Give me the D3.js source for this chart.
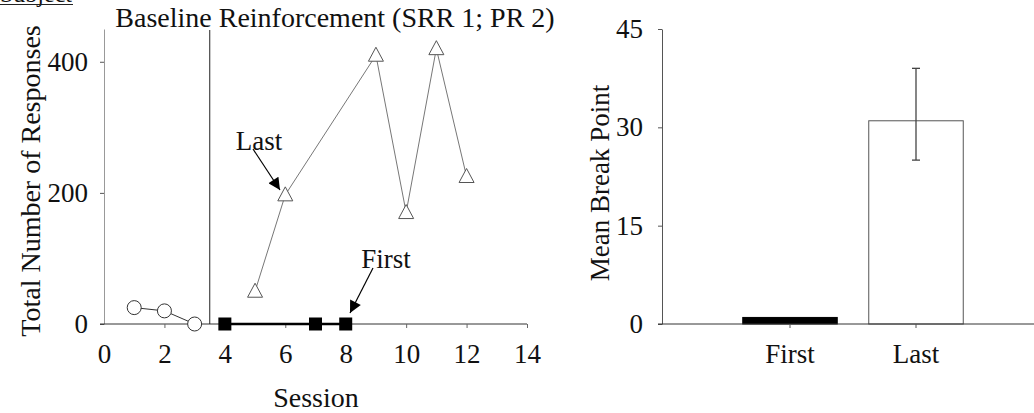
<!DOCTYPE html>
<html><head><meta charset="utf-8">
<script src="https://cdn.jsdelivr.net/npm/d3@7"></script>
<style>
html,body{margin:0;padding:0;background:#fff;}
svg text{font-family:"Liberation Serif","Times New Roman",serif;fill:#111;}
</style></head>
<body><svg id="c" width="1034" height="413"></svg>
<script>
// ---- data ----
const baselineSessions = [1, 2, 3];
const baselineValues = [25, 20, 0];
const firstSessions = [4, 7, 8];
const firstValues = [0, 0, 0];
const lastSessions = [5, 6, 9, 10, 11, 12];
const lastValues = [50, 197, 410, 170, 420, 225];
const leftYTicks = [0, 200, 400];
const leftXTicks = [0, 2, 4, 6, 8, 10, 12, 14];
const phaseChange = 3.5;
const barCategories = ["First", "Last"];
const barMeans = [1, 31];
const barErrLow = [null, 25];
const barErrHigh = [null, 39];
const rightYTicks = [0, 15, 30, 45];

const FS = "27px";
const svg = d3.select("#c");

// ---- left chart ----
const x = d3.scaleLinear().domain([0, 14]).range([104, 527]);
const y = d3.scaleLinear().domain([0, 450]).range([324, 29]);

const yAx = svg.append("g").attr("transform", "translate(104,0)")
  .call(d3.axisLeft(y).tickValues(leftYTicks).tickSize(4).tickSizeOuter(0).tickPadding(12));
yAx.select(".domain").attr("stroke", "#999");
yAx.selectAll(".tick line").attr("stroke", "#555");
yAx.selectAll("text").style("font-size", FS);

const xAx = svg.append("g").attr("transform", "translate(0,324)")
  .call(d3.axisBottom(x).tickValues(leftXTicks).tickSize(4).tickSizeOuter(0).tickPadding(16));
xAx.select(".domain").attr("stroke", "#333").attr("d", `M${x(0)-4},0H${x(14)}`);
xAx.selectAll(".tick line").attr("stroke", "#666");
xAx.selectAll(".tick").filter(d => d === 0).select("line").remove();
xAx.selectAll("text").style("font-size", FS);

// phase line
svg.append("line").attr("x1", x(phaseChange)).attr("x2", x(phaseChange))
  .attr("y1", 30).attr("y2", y(0)).attr("stroke", "#222").attr("stroke-width", 1);

const line = d3.line().x(d => x(d[0])).y(d => y(d[1]));
const base = baselineSessions.map((s, i) => [s, baselineValues[i]]);
const first = firstSessions.map((s, i) => [s, firstValues[i]]);
const last = lastSessions.map((s, i) => [s, lastValues[i]]);

svg.append("path").attr("d", line(base)).attr("fill", "none").attr("stroke", "#333").attr("stroke-width", 1);
svg.append("path").attr("d", line(first)).attr("fill", "none").attr("stroke", "#000").attr("stroke-width", 2.5);
svg.append("path").attr("d", line(last)).attr("fill", "none").attr("stroke", "#777").attr("stroke-width", 1);

svg.selectAll(".circ").data(base).enter().append("circle")
  .attr("cx", d => x(d[0])).attr("cy", d => y(d[1])).attr("r", 7)
  .attr("fill", "#fff").attr("stroke", "#333").attr("stroke-width", 1);

svg.selectAll(".sq").data(first).enter().append("rect")
  .attr("x", d => x(d[0]) - 6.5).attr("y", d => y(d[1]) - 6.5)
  .attr("width", 13).attr("height", 13).attr("fill", "#000");

svg.selectAll(".tri").data(last).enter().append("path")
  .attr("transform", d => `translate(${x(d[0])},${y(d[1])})`)
  .attr("d", "M0,-8L7.5,6L-7.5,6Z")
  .attr("fill", "#fff").attr("stroke", "#555").attr("stroke-width", 1);

// arrows
const defs = svg.append("defs");
defs.append("marker").attr("id", "ah").attr("viewBox", "0 0 10 10")
  .attr("refX", 10).attr("refY", 5).attr("markerWidth", 14).attr("markerHeight", 12)
  .attr("markerUnits", "userSpaceOnUse").attr("orient", "auto")
  .append("path").attr("d", "M0,0L10,5L0,10Z").attr("fill", "#000");

svg.append("line").attr("x1", 253).attr("y1", 149).attr("x2", 280).attr("y2", 190)
  .attr("stroke", "#000").attr("stroke-width", 1.2).attr("marker-end", "url(#ah)");
svg.append("line").attr("x1", 373).attr("y1", 268).attr("x2", 350).attr("y2", 313)
  .attr("stroke", "#000").attr("stroke-width", 1.2).attr("marker-end", "url(#ah)");

svg.append("text").attr("x", 259).attr("y", 150).attr("text-anchor", "middle")
  .style("font-size", FS).text("Last");
svg.append("text").attr("x", 386).attr("y", 268).attr("text-anchor", "middle")
  .style("font-size", FS).text("First");

// titles & labels
svg.append("text").attr("x", 335).attr("y", 27).attr("text-anchor", "middle")
  .style("font-size", "28px").text("Baseline Reinforcement (SRR 1; PR 2)");
svg.append("text").attr("transform", "translate(40,181) rotate(-90)").attr("text-anchor", "middle")
  .style("font-size", "28px").text("Total Number of Responses");
svg.append("text").attr("x", 316).attr("y", 407).attr("text-anchor", "middle")
  .style("font-size", "28px").text("Session");

// cut-off top label (as in the reference)
svg.append("text").attr("x", 0).attr("y", 2).style("font-size", "24px").text("Subject");
svg.append("line").attr("x1", 0).attr("x2", 73).attr("y1", 4.5).attr("y2", 4.5)
  .attr("stroke", "#222").attr("stroke-width", 1);

// ---- right chart ----
const yb = d3.scaleLinear().domain([0, 45]).range([324, 29]);
const xb = d3.scaleBand().domain(barCategories).range([727, 979])
  .paddingInner(0.25).paddingOuter(0.125);

const ybAx = svg.append("g").attr("transform", "translate(662,0)")
  .call(d3.axisLeft(yb).tickValues(rightYTicks).tickSize(4).tickSizeOuter(0).tickPadding(15));
ybAx.select(".domain").attr("stroke", "#555");
ybAx.selectAll(".tick line").attr("stroke", "#555");
ybAx.selectAll("text").style("font-size", FS);

svg.selectAll(".bar").data(barCategories).enter().append("rect")
  .attr("x", d => xb(d)).attr("width", xb.bandwidth())
  .attr("y", (d, i) => yb(barMeans[i])).attr("height", (d, i) => yb(0) - yb(barMeans[i]))
  .attr("fill", (d, i) => i === 0 ? "#000" : "#fff")
  .attr("stroke", (d, i) => i === 0 ? "#000" : "#555").attr("stroke-width", 1);

const xbAx = svg.append("g").attr("transform", "translate(0,324)")
  .call(d3.axisBottom(xb).tickSize(4).tickSizeOuter(0).tickPadding(16));
xbAx.select(".domain").attr("stroke", "#333").attr("d", "M658,0H1034");
xbAx.selectAll(".tick line").attr("stroke", "#555");
xbAx.selectAll("text").style("font-size", FS);

// error bars
barCategories.forEach((c, i) => {
  if (barErrLow[i] == null) return;
  const cx = xb(c) + xb.bandwidth() / 2;
  const g = svg.append("g").attr("stroke", "#444").attr("stroke-width", 1.3);
  g.append("line").attr("x1", cx).attr("x2", cx).attr("y1", yb(barErrHigh[i])).attr("y2", yb(barErrLow[i]));
  g.append("line").attr("x1", cx - 4).attr("x2", cx + 4).attr("y1", yb(barErrHigh[i])).attr("y2", yb(barErrHigh[i]));
  g.append("line").attr("x1", cx - 4).attr("x2", cx + 4).attr("y1", yb(barErrLow[i])).attr("y2", yb(barErrLow[i]));
});

svg.append("text").attr("transform", "translate(609,183) rotate(-90)").attr("text-anchor", "middle")
  .style("font-size", "27px").text("Mean Break Point");
</script></body></html>
